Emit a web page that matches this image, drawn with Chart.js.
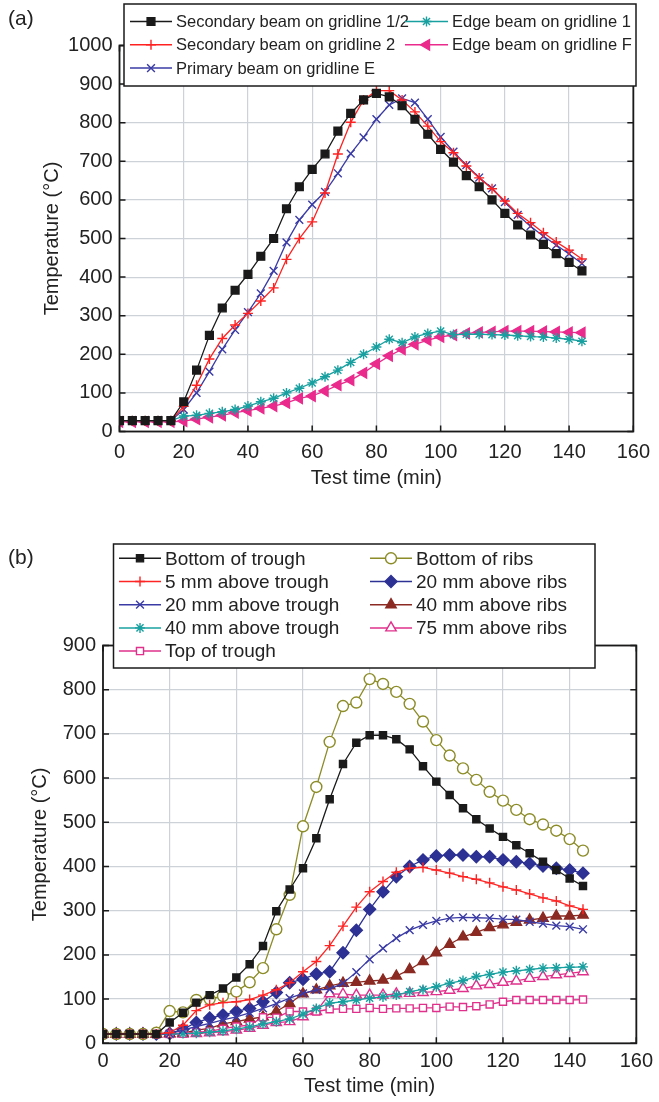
<!DOCTYPE html>
<html>
<head>
<meta charset="utf-8">
<script src="https://cdn.jsdelivr.net/npm/chart.js@4.4.1/dist/chart.umd.min.js"></script>
<style>
  html, body { margin: 0; padding: 0; background: #fff; }
  body { width: 659px; height: 1102px; position: relative; overflow: hidden; font-family: "Liberation Sans", Arial, sans-serif; }
  .panel { position: absolute; left: 0; width: 659px; }
  #wrapA { top: 0; height: 505px; }
  #wrapB { top: 505px; height: 597px; }
  .tag { position: absolute; left: 8px; font-size: 21px; color: #222; }
</style>
</head>
<body>
<div class="panel" id="wrapA"><canvas id="chartA" width="659" height="505"></canvas></div>
<div class="panel" id="wrapB"><canvas id="chartB" width="659" height="597"></canvas></div>
<div class="tag" style="top:6px">(a)</div>
<div class="tag" style="top:545px">(b)</div>

<script>
// time of each reading (min)
const times = [0, 4, 8, 12, 16, 20, 24, 28, 32, 36, 40, 44, 48, 52, 56, 60, 64, 68, 72,
    76, 80, 84, 88, 92, 96, 100, 104, 108, 112, 116, 120, 124, 128, 132, 136, 140, 144];

const xTicks = [0, 20, 40, 60, 80, 100, 120, 140, 160];
const yTicksA = [0, 100, 200, 300, 400, 500, 600, 700, 800, 900, 1000];
const yTicksB = [0, 100, 200, 300, 400, 500, 600, 700, 800, 900];

// (a) steel beam temperatures
const secondary12 = [28, 28, 28, 28, 28, 77, 159, 249, 320, 366, 407, 454, 500, 577, 634, 679, 719, 778, 824,
    859, 876, 867, 844, 809, 770, 731, 698, 663, 634, 600, 565, 535, 509, 485, 461, 438, 416];
const secondary2 = [28, 28, 28, 28, 28, 65, 120, 188, 241, 276, 306, 338, 372, 446, 500, 543, 618, 719, 801,
    859, 883, 883, 859, 828, 791, 751, 722, 688, 657, 629, 597, 565, 541, 515, 491, 470, 447];
const primaryE = [28, 28, 28, 28, 28, 57, 100, 155, 213, 263, 309, 358, 416, 490, 548, 588, 621, 669, 720,
    762, 809, 846, 863, 852, 809, 763, 725, 690, 658, 630, 594, 561, 532, 506, 483, 460, 435];
const edge1 = [28, 28, 28, 28, 28, 40, 42, 47, 51, 57, 66, 77, 86, 100, 112, 126, 142, 159, 179,
    200, 219, 239, 230, 245, 254, 260, 251, 252, 252, 251, 250, 248, 246, 245, 242, 239, 234];
const edgeF = [25, 25, 25, 25, 25, 27, 32, 37, 42, 49, 54, 60, 66, 74, 86, 92, 105, 120, 133,
    152, 175, 196, 213, 226, 237, 245, 250, 254, 257, 258, 260, 260, 260, 259, 258, 257, 256];

// (b) slab temperatures
const bottomTrough = [21, 21, 21, 21, 21, 47, 69, 92, 109, 124, 149, 179, 220, 299, 348, 396, 464, 552, 632,
    680, 697, 697, 688, 665, 627, 592, 562, 532, 507, 486, 467, 448, 430, 411, 392, 373, 356];
const above5Trough = [21, 21, 21, 21, 21, 24, 41, 74, 87, 92, 94, 99, 109, 121, 137, 162, 185, 221, 265,
    308, 343, 366, 387, 396, 398, 392, 385, 377, 371, 363, 354, 347, 338, 329, 322, 311, 303];
const above20Trough = [21, 21, 21, 21, 21, 22, 30, 38, 45, 53, 60, 69, 79, 90, 102, 113, 121, 122, 136,
    161, 190, 215, 238, 256, 268, 277, 283, 285, 284, 283, 281, 280, 275, 271, 266, 264, 258];
const above40Trough = [21, 21, 21, 21, 21, 21, 22, 23, 25, 28, 32, 37, 44, 49, 55, 66, 79, 91, 94,
    98, 102, 105, 109, 117, 122, 128, 136, 142, 151, 156, 161, 164, 167, 170, 171, 172, 173];
const topTrough = [21, 21, 21, 21, 21, 21, 22, 25, 27, 33, 38, 41, 59, 58, 72, 72, 72, 77, 78,
    78, 80, 78, 79, 79, 80, 80, 83, 82, 84, 88, 94, 98, 98, 98, 98, 98, 99];
const bottomRibs = [21, 21, 21, 21, 24, 73, 70, 98, 100, 107, 117, 138, 170, 258, 336, 491, 580, 682, 763,
    771, 824, 813, 795, 768, 728, 686, 651, 622, 596, 569, 549, 528, 507, 495, 481, 462, 436];
const above20Ribs = [21, 21, 21, 21, 21, 22, 32, 47, 57, 64, 72, 79, 94, 115, 137, 145, 157, 162, 205,
    256, 303, 343, 377, 400, 415, 424, 426, 426, 422, 422, 415, 411, 407, 401, 396, 392, 385];
const above40Ribs = [21, 21, 21, 21, 21, 22, 23, 30, 34, 44, 49, 55, 60, 72, 90, 112, 121, 130, 136,
    138, 141, 143, 152, 167, 185, 205, 224, 241, 251, 262, 268, 274, 279, 283, 288, 288, 290];
const above75Ribs = [21, 21, 21, 21, 21, 21, 21, 22, 24, 26, 30, 34, 41, 47, 49, 60, 72, 112, 111,
    109, 109, 109, 112, 113, 115, 117, 120, 124, 130, 133, 138, 141, 147, 151, 155, 158, 162];

const FONT = '"Liberation Sans", Arial, sans-serif';

function series(label, values, color, style, opts) {
    opts = opts || {};
    return {
        label: label,
        data: times.map((t, i) => ({ x: t, y: values[i] })),
        borderColor: color,
        borderWidth: 1.3,
        pointStyle: style,
        pointRotation: opts.rotation || 0,
        pointRadius: opts.radius || 5,
        pointHoverRadius: opts.radius || 5,
        pointBorderColor: color,
        pointBorderWidth: 1.4,
        pointBackgroundColor: opts.open ? '#ffffff' : color,
        tension: 0,
        fill: false
    };
}

function drawLegend(chart, lg) {
    const ctx = chart.ctx;
    const b = lg.box;
    ctx.save();
    ctx.fillStyle = '#ffffff';
    ctx.fillRect(b.left, b.top, b.right - b.left, b.bottom - b.top);
    ctx.strokeStyle = '#1a1a1a';
    ctx.lineWidth = 1.5;
    ctx.strokeRect(b.left, b.top, b.right - b.left, b.bottom - b.top);
    ctx.font = lg.font;
    ctx.textBaseline = 'middle';
    lg.columns.forEach(col => {
        col.items.forEach((di, row) => {
            const ds = chart.data.datasets[di];
            const yy = lg.rowTop + row * lg.rowGap;
            ctx.strokeStyle = ds.borderColor;
            ctx.lineWidth = 1.5;
            ctx.beginPath();
            ctx.moveTo(col.lineFrom, yy);
            ctx.lineTo(col.lineTo, yy);
            ctx.stroke();
            ctx.fillStyle = ds.pointBackgroundColor;
            ctx.strokeStyle = ds.pointBorderColor;
            ctx.lineWidth = ds.pointBorderWidth;
            Chart.helpers.drawPoint(ctx, {
                pointStyle: ds.pointStyle,
                rotation: ds.pointRotation,
                radius: ds.pointRadius,
                borderWidth: ds.pointBorderWidth
            }, (col.lineFrom + col.lineTo) / 2, yy);
            ctx.fillStyle = '#222';
            ctx.fillText(ds.label, col.textX, yy + 1);
        });
    });
    ctx.restore();
}

// closed frame, inward tick marks and the boxed legend
const framePlugin = {
    id: 'frame',
    afterDraw(chart, args, opts) {
        const { ctx, chartArea: a, scales: { x, y } } = chart;
        ctx.save();
        ctx.strokeStyle = '#1a1a1a';
        ctx.lineWidth = 1.5;
        ctx.beginPath();
        x.ticks.forEach(t => {
            const px = x.getPixelForValue(t.value);
            ctx.moveTo(px, a.bottom); ctx.lineTo(px, a.bottom - 6);
            ctx.moveTo(px, a.top); ctx.lineTo(px, a.top + 6);
        });
        y.ticks.forEach(t => {
            const py = y.getPixelForValue(t.value);
            ctx.moveTo(a.left, py); ctx.lineTo(a.left + 6, py);
            ctx.moveTo(a.right, py); ctx.lineTo(a.right - 6, py);
        });
        ctx.stroke();
        ctx.lineWidth = 1.8;
        ctx.strokeRect(a.left, a.top, a.right - a.left, a.bottom - a.top);
        ctx.restore();
        drawLegend(chart, opts);
    }
};

function makeOptions(cfg) {
    return {
        responsive: false,
        animation: false,
        layout: { padding: { left: 0, right: 19, top: cfg.padTop, bottom: 0 } },
        plugins: {
            legend: { display: false },
            tooltip: { enabled: false },
            frame: cfg.legend
        },
        scales: {
            x: {
                type: 'linear',
                min: 0,
                max: 160,
                afterFit: s => { s.height = cfg.xHeight; },
                afterBuildTicks: s => { s.ticks = xTicks.map(v => ({ value: v })); },
                grid: { color: '#cdd1d8', lineWidth: 1.2, drawTicks: false },
                border: { display: false },
                ticks: {
                    color: '#222',
                    padding: cfg.xTickPad,
                    font: { family: FONT, size: 20 },
                    callback: v => String(v)
                },
                title: {
                    display: true,
                    text: 'Test time (min)',
                    color: '#222',
                    font: { family: FONT, size: 20 },
                    padding: { top: 0, bottom: cfg.xTitlePad }
                }
            },
            y: {
                type: 'linear',
                min: 0,
                max: cfg.yMax,
                afterFit: s => { s.width = cfg.yWidth; },
                afterBuildTicks: s => { s.ticks = cfg.yTicks.map(v => ({ value: v })); },
                grid: { color: '#cdd1d8', lineWidth: 1.2, drawTicks: false },
                border: { display: false },
                ticks: {
                    color: '#222',
                    padding: 7,
                    font: { family: FONT, size: 20 },
                    callback: v => String(v)
                },
                title: {
                    display: true,
                    text: 'Temperature (°C)',
                    color: '#222',
                    font: { family: FONT, size: 20 },
                    padding: { top: cfg.yTitlePad, bottom: 0 }
                }
            }
        }
    };
}

new Chart(document.getElementById('chartA'), {
    type: 'line',
    data: {
        datasets: [
            series('Secondary beam on gridline 1/2', secondary12, '#1a1a1a', 'rect', { radius: 5.5 }),
            series('Secondary beam on gridline 2', secondary2, '#ff2020', 'cross', { radius: 5 }),
            series('Primary beam on gridline E', primaryE, '#3b3ba6', 'crossRot', { radius: 5.5 }),
            series('Edge beam on gridline 1', edge1, '#18a0a0', 'star', { radius: 5 }),
            series('Edge beam on gridline F', edgeF, '#ea2a8c', 'triangle', { radius: 6, rotation: 270 })
        ]
    },
    options: makeOptions({
        padTop: 45.5,
        xHeight: 73.5,
        yWidth: 119.5,
        yMax: 1000,
        yTicks: yTicksA,
        xTickPad: 9,
        xTitlePad: 15,
        yTitlePad: 40,
        legend: {
            box: { left: 124, top: 4, right: 636, bottom: 86 },
            font: '16.5px ' + FONT,
            rowTop: 21.5,
            rowGap: 23.3,
            columns: [
                { items: [0, 1, 2], lineFrom: 130, lineTo: 172, textX: 176 },
                { items: [3, 4], lineFrom: 405, lineTo: 448, textX: 452 }
            ]
        }
    }),
    plugins: [framePlugin]
});

new Chart(document.getElementById('chartB'), {
    type: 'line',
    data: {
        datasets: [
            series('Bottom of trough', bottomTrough, '#1a1a1a', 'rect', { radius: 5 }),
            series('5 mm above trough', above5Trough, '#ff2424', 'cross', { radius: 5 }),
            series('20 mm above trough', above20Trough, '#3b3ba6', 'crossRot', { radius: 5.5 }),
            series('40 mm above trough', above40Trough, '#18a0a0', 'star', { radius: 5 }),
            series('Top of trough', topTrough, '#e0308c', 'rect', { radius: 5, open: true }),
            series('Bottom of ribs', bottomRibs, '#8c8c28', 'circle', { radius: 5.5, open: true }),
            series('20 mm above ribs', above20Ribs, '#2d3193', 'rectRot', { radius: 6 }),
            series('40 mm above ribs', above40Ribs, '#8b2a22', 'triangle', { radius: 6 }),
            series('75 mm above ribs', above75Ribs, '#e0308c', 'triangle', { radius: 6, open: true })
        ]
    },
    options: makeOptions({
        padTop: 140.5,
        xHeight: 58.7,
        yWidth: 103,
        yMax: 900,
        yTicks: yTicksB,
        xTickPad: 6,
        xTitlePad: 4,
        yTitlePad: 28,
        legend: {
            box: { left: 113.5, top: 39, right: 595, bottom: 163 },
            font: '19px ' + FONT,
            rowTop: 53.3,
            rowGap: 23.2,
            columns: [
                { items: [0, 1, 2, 3, 4], lineFrom: 119, lineTo: 161, textX: 165 },
                { items: [5, 6, 7, 8], lineFrom: 370, lineTo: 412, textX: 416 }
            ]
        }
    }),
    plugins: [framePlugin]
});
</script>
</body>
</html>
